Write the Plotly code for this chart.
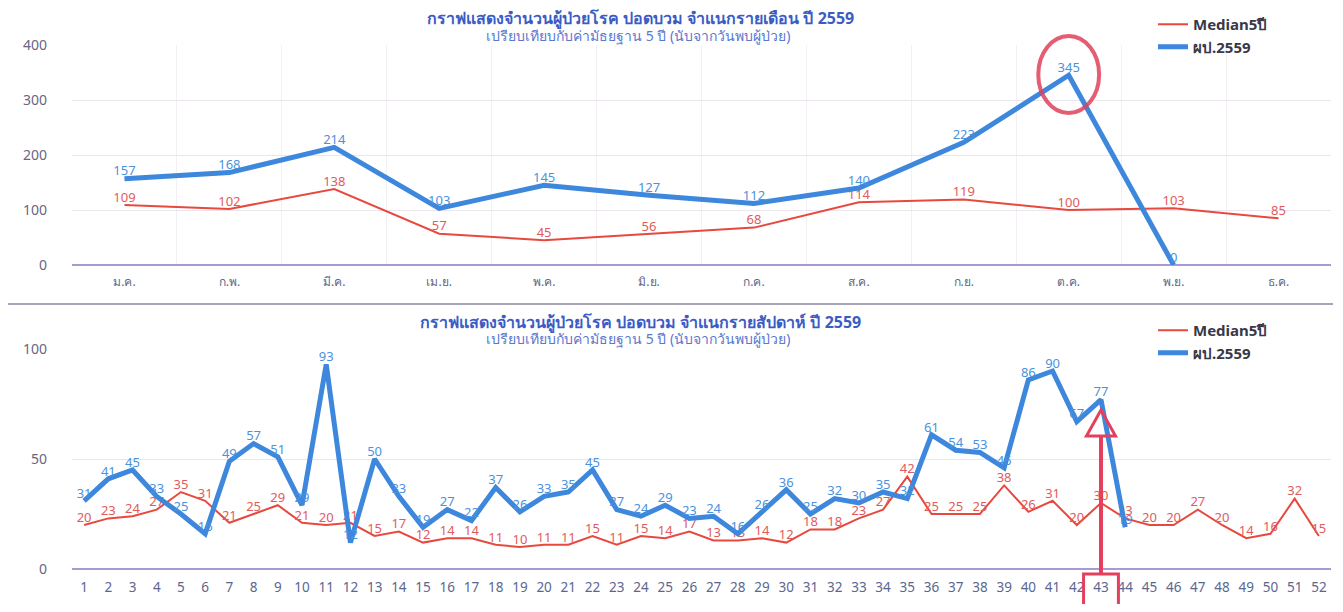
import plotly.graph_objects as go

# ---------------- data ----------------
months = ["ม.ค.", "ก.พ.", "มี.ค.", "เม.ย.", "พ.ค.", "มิ.ย.", "ก.ค.", "ส.ค.", "ก.ย.", "ต.ค.", "พ.ย.", "ธ.ค."]
month_median = [109, 102, 138, 57, 45, 56, 68, 114, 119, 100, 103, 85]
month_2559 = [157, 168, 214, 103, 145, 127, 112, 140, 223, 345, 0, None]

weeks = [str(i) for i in range(1, 53)]
week_median = [20, 23, 24, 27, 35, 31, 21, 25, 29, 21,
               20, 21, 15, 17, 12, 14, 14, 11, 10, 11,
               11, 15, 11, 15, 14, 17, 13, 13, 14, 12,
               18, 18, 23, 27, 42, 25, 25, 25, 38, 26,
               31, 20, 30, 23, 20, 20, 27, 20, 14, 16,
               32, 15]
week_2559 = [31, 41, 45, 33, 25, 16, 49, 57, 51, 29,
             93, 12, 50, 33, 19, 27, 22, 37, 26, 33,
             35, 45, 27, 24, 29, 23, 24, 16, 26, 36,
             25, 32, 30, 35, 32, 61, 54, 53, 46, 86,
             90, 67, 77, 19] + [None] * 8

title_top = "กราฟแสดงจำนวนผู้ป่วยโรค ปอดบวม จำแนกรายเดือน ปี 2559"
title_bot = "กราฟแสดงจำนวนผู้ป่วยโรค ปอดบวม จำแนกรายสัปดาห์ ปี 2559"
subtitle = "เปรียบเทียบกับค่ามัธยฐาน 5 ปี (นับจากวันพบผู้ป่วย)"
name_median = "Median5ปี"
name_cur = "ผป.2559"

# ---------------- style ----------------
# the page body has an 8px margin, so the figure is drawn 8px in from the window edge
OFF = 8
W, H = 1343 - 2 * OFF, 612 - 2 * OFF
RED = "#e8493f"
BLUE = "#3d87dc"
RED_TXT = "#e25b5b"
BLUE_TXT = "#4b92dc"
FONT = "Noto Sans, DejaVu Sans, sans-serif"

def px_x(px):
    return (px - OFF) / W

def px_y(px):
    return 1 - (px - OFF) / H

def txt(v):
    return ["" if x is None else str(x) for x in v]

fig = go.Figure()

fig.add_trace(go.Scatter(x=months, y=month_median, mode="lines+text", name=name_median,
                         line=dict(color=RED, width=2), text=txt(month_median),
                         textposition="top center", textfont=dict(color=RED_TXT, size=13),
                         cliponaxis=False, xaxis="x", yaxis="y", legend="legend"))
fig.add_trace(go.Scatter(x=months, y=month_2559, mode="lines+text", name=name_cur,
                         line=dict(color=BLUE, width=5), text=txt(month_2559),
                         textposition="top center", textfont=dict(color=BLUE_TXT, size=13),
                         cliponaxis=False, xaxis="x", yaxis="y", legend="legend"))

fig.add_trace(go.Scatter(x=weeks, y=week_median, mode="lines+text", name=name_median,
                         line=dict(color=RED, width=2), text=txt(week_median),
                         textposition="top center", textfont=dict(color=RED_TXT, size=13),
                         cliponaxis=False, xaxis="x2", yaxis="y2", legend="legend2"))
fig.add_trace(go.Scatter(x=weeks, y=week_2559, mode="lines+text", name=name_cur,
                         line=dict(color=BLUE, width=5), text=txt(week_2559),
                         textposition="top center", textfont=dict(color=BLUE_TXT, size=13),
                         cliponaxis=False, xaxis="x2", yaxis="y2", legend="legend2"))

xdom = [px_x(72), px_x(1331)]
axis_common_y = dict(showline=False, ticks="", gridcolor="#ede5ee", gridwidth=1,
                     zeroline=True, zerolinecolor="#a99ad4", zerolinewidth=2, automargin=False,
                     tickfont=dict(size=14, color="#6a6580"), ticklabelstandoff=24)

fig.update_layout(
    width=W, height=H,
    margin=dict(l=0, r=0, t=0, b=0, autoexpand=False),
    paper_bgcolor="white", plot_bgcolor="white",
    font=dict(family=FONT),
    xaxis=dict(domain=xdom, anchor="y", type="category", range=[-0.5, len(months) - 0.5],
               showline=False, ticks="", showgrid=True, gridcolor="#f3f0f5",
               tickson="boundaries", zeroline=False, automargin=False, tickangle=0,
               tickfont=dict(size=12, color="#5b6790"), ticklabelstandoff=8),
    yaxis=dict(domain=[px_y(265), px_y(45)], anchor="x", range=[0, 400], dtick=100, **axis_common_y),
    xaxis2=dict(domain=xdom, anchor="y2", type="category", range=[-0.5, len(weeks) - 0.5],
                showline=False, ticks="", showgrid=False, zeroline=False, automargin=False,
                tickangle=0, tickfont=dict(size=13.5, color="#5b6790"), ticklabelstandoff=8),
    yaxis2=dict(domain=[px_y(569), px_y(349)], anchor="x2", range=[0, 100], dtick=50, **axis_common_y),
    legend=dict(x=px_x(1153), y=px_y(8), xanchor="left", yanchor="top", bgcolor="rgba(0,0,0,0)",
                font=dict(size=15, color="#383848", family=FONT, weight="bold"),
                tracegroupgap=0, itemwidth=30),
    legend2=dict(x=px_x(1153), y=px_y(314), xanchor="left", yanchor="top", bgcolor="rgba(0,0,0,0)",
                 font=dict(size=15, color="#383848", family=FONT, weight="bold"),
                 tracegroupgap=0, itemwidth=30),
    showlegend=True,
)

annots = [
    dict(text="<b>" + title_top + "</b>", x=px_x(640), y=px_y(18), font=dict(size=16, color="#3b5cc4")),
    dict(text=subtitle, x=px_x(638), y=px_y(35), font=dict(size=14, color="#5a78cf")),
    dict(text="<b>" + title_bot + "</b>", x=px_x(640), y=px_y(322), font=dict(size=16, color="#3b5cc4")),
    dict(text=subtitle, x=px_x(638), y=px_y(339), font=dict(size=14, color="#5a78cf")),
]
for a in annots:
    fig.add_annotation(xref="paper", yref="paper", showarrow=False, xanchor="center",
                       yanchor="middle", **a)

# separator between the two charts
fig.add_shape(type="line", xref="paper", yref="paper", x0=0, x1=px_x(1333),
              y0=px_y(304), y1=px_y(304), line=dict(color="#a8a4b8", width=2))

# highlight ellipse around October peak
oct_idx = months.index("ต.ค.")
fig.add_shape(type="circle", xref="x", yref="paper",
              x0=oct_idx - 0.29, x1=oct_idx + 0.29, y0=px_y(113), y1=px_y(36),
              line=dict(color="#e0415a", width=4), opacity=0.85)

# arrow + box for week 43
w43 = weeks.index("43")
ARR = "#e4405e"
fig.add_shape(type="rect", xref="x2", yref="paper", x0=w43 - 0.72, x1=w43 + 0.72,
              y0=px_y(610), y1=px_y(574), line=dict(color=ARR, width=3))
fig.add_shape(type="line", xref="x2", yref="paper", x0=w43, x1=w43, y0=px_y(574), y1=px_y(436),
              line=dict(color=ARR, width=4))
fig.add_shape(type="path", xref="x2", yref="paper",
              path=f"M {w43 - 0.6} {px_y(436)} L {w43} {px_y(410)} L {w43 + 0.6} {px_y(436)} Z",
              line=dict(color=ARR, width=3), fillcolor="rgba(255,255,255,0)")

fig.write_html("out.html")
